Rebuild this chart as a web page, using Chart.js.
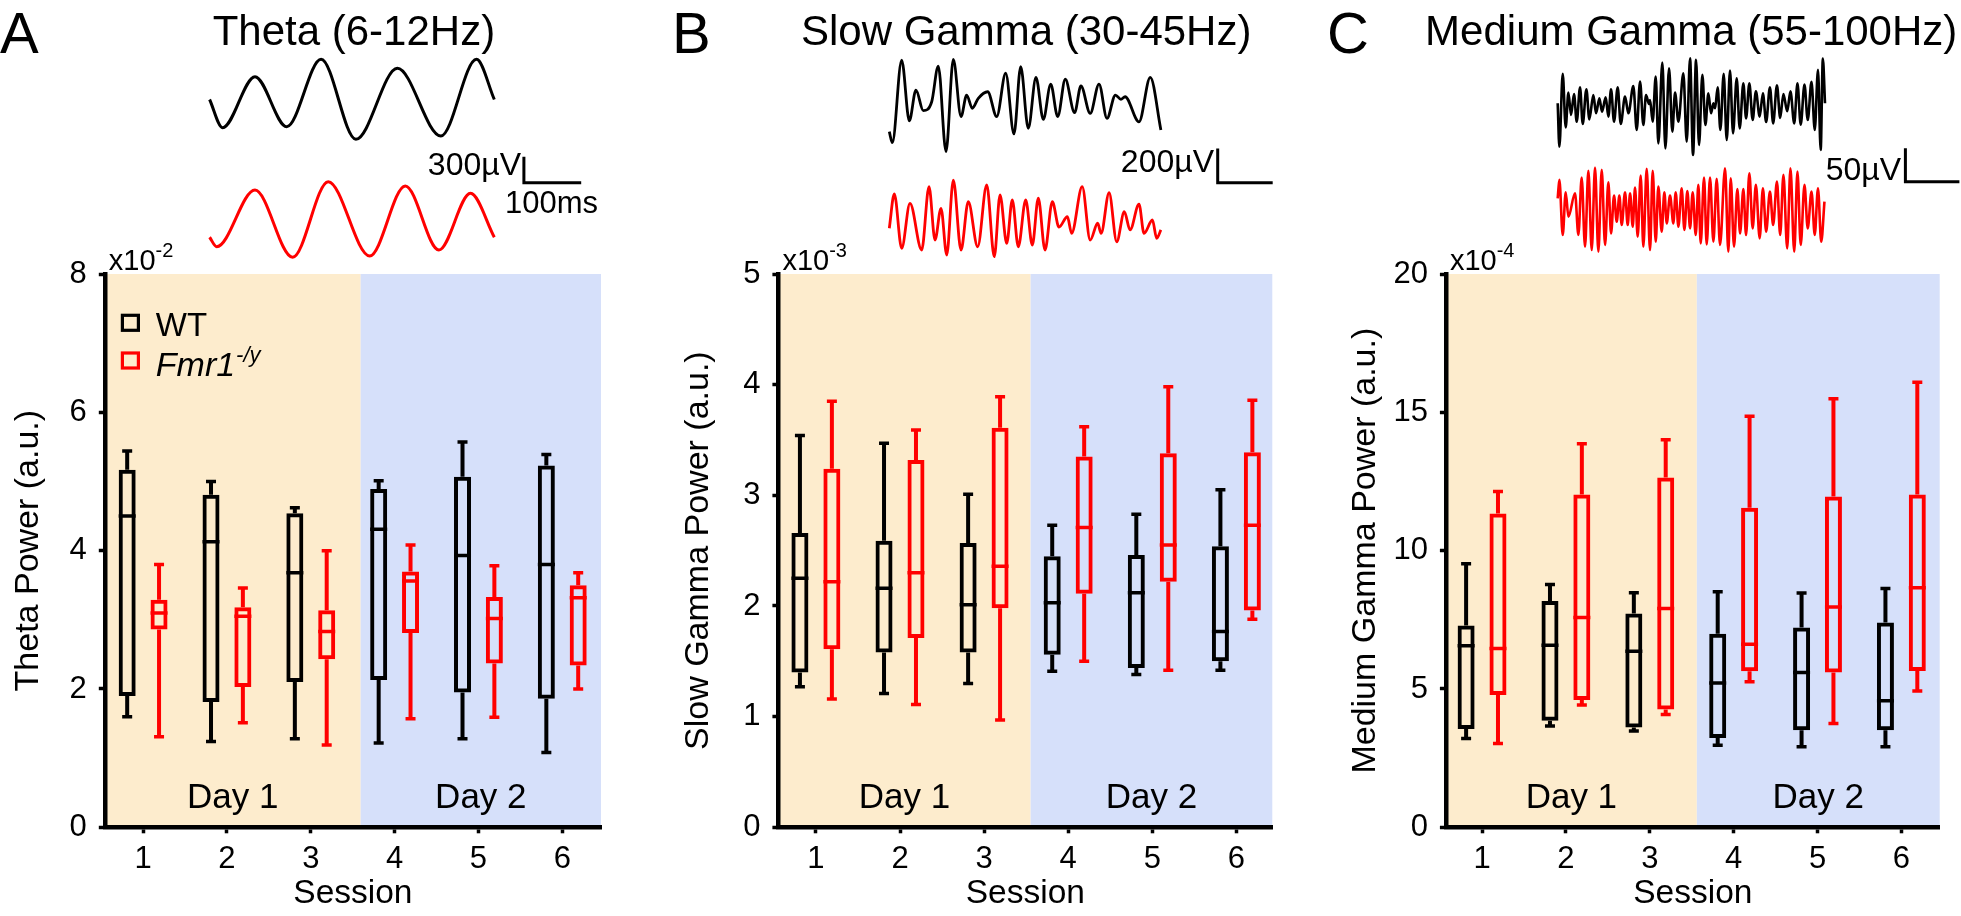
<!DOCTYPE html>
<html>
<head>
<meta charset="utf-8">
<script src="https://cdn.jsdelivr.net/npm/chart.js@4.4.1/dist/chart.umd.min.js"></script>
<style>
html,body{margin:0;padding:0;background:#ffffff;width:1961px;height:916px;overflow:hidden;}
canvas{position:absolute;}
</style>
</head>
<body>
<canvas id="hA"></canvas><canvas id="hB"></canvas><canvas id="hC"></canvas>
<canvas id="mA"></canvas><canvas id="mB"></canvas><canvas id="mC"></canvas>
<script>
// ================= DATA =================
const sessions = [1, 2, 3, 4, 5, 6];
const dayLabels = ['Day 1', 'Day 2'];
const groupLabels = ['WT', 'Fmr1'];

const thetaTicks = [0, 2, 4, 6, 8];
const slowTicks = [0, 1, 2, 3, 4, 5];
const medTicks = [0, 5, 10, 15, 20];

// box rows per session: [lower whisker, Q1, median, Q3, upper whisker]
const thetaWT = [[1.60,1.90,4.50,5.17,5.44],[1.24,1.81,4.13,4.81,5.00],[1.28,2.10,3.68,4.54,4.62],[1.22,2.13,4.31,4.89,5.01],[1.28,1.95,3.93,5.07,5.57],[1.08,1.86,3.80,5.23,5.39]];
const thetaKO = [[1.31,2.86,3.10,3.29,3.80],[1.51,2.03,3.05,3.18,3.46],[1.19,2.43,2.83,3.14,4.00],[1.57,2.81,3.56,3.70,4.08],[1.59,2.37,3.02,3.33,3.78],[2.00,2.34,3.32,3.50,3.68]];
const slowWT = [[1.27,1.40,2.25,2.66,3.54],[1.21,1.58,2.16,2.59,3.47],[1.30,1.58,2.01,2.57,3.01],[1.41,1.56,2.03,2.45,2.73],[1.38,1.44,2.12,2.46,2.83],[1.42,1.50,1.77,2.54,3.05]];
const slowKO = [[1.16,1.61,2.22,3.24,3.85],[1.11,1.71,2.30,3.32,3.59],[0.97,1.98,2.36,3.61,3.89],[1.50,2.11,2.71,3.35,3.62],[1.42,2.22,2.55,3.38,3.98],[1.88,1.96,2.73,3.39,3.86]];
const medWT = [[3.21,3.55,6.56,7.29,9.53],[3.66,3.85,6.58,8.18,8.78],[3.48,3.61,6.36,7.73,8.48],[2.97,3.23,5.22,7.00,8.51],[2.91,3.51,5.60,7.22,8.47],[2.91,3.51,4.57,7.40,8.63]];
const medKO = [[3.03,4.78,6.46,11.34,12.14],[4.42,4.60,7.58,12.03,13.86],[4.08,4.26,7.91,12.64,14.01],[5.26,5.64,6.62,11.55,14.86],[3.75,5.60,7.96,11.96,15.49],[4.93,5.65,8.66,12.03,16.09]];

// example traces: time (ms) and voltage (uV), sampled at the extrema
const thetaWT_t = [0,22.7,79.2,134.6,194.6,255.3,327.7,403.7,465.8,496.9];
const thetaWT_uV = [0,-325,263,-314,464,-459,360,-421,464,0];
const thetaKO_t = [0,12.4,79.2,144.9,207.0,279.4,341.5,400.2,455.3,496.9];
const thetaKO_uV = [-205,-314,340,-436,436,-421,387,-352,302,-205];

const slowWT_t = [0,5.5,22.5,36.4,48.5,61.8,77.1,89.1,103.1,116.4,130.4,140.7,150.9,161.8,178.9,195.3,211.6,226.7,238.9,252.7,266.7,280.0,293.5,306.2,320.0,336.9,348.4,365.3,381.3,395.8,411.1,421.1,428.7,454.0,474.5,493.8];
const slowWT_uV = [-185,-249,233,-121,58,-62,-10,198,-301,237,-97,29,-48,10,48,-97,156,-198,194,-165,132,-113,92,-97,121,-74,82,-78,93,-107,29,4,19,-127,132,-175];
const slowKO_t = [0,9.1,22.5,37.6,58.9,72.2,83.1,94.0,104.4,116.4,130.4,143.6,160.7,177.1,190.9,201.3,213.5,223.6,234.5,248.0,260.0,270.9,283.1,296.4,308.5,323.8,331.5,350.7,365.3,378.9,385.1,399.6,413.5,427.3,437.8,454.0,463.1,478.4,486.2,493.8];
const slowKO_uV = [-48,152,-165,97,-175,194,-117,68,-204,233,-175,107,-156,204,-214,146,-136,117,-156,117,-146,127,-175,107,-41,19,-78,194,-117,-19,-78,159,-127,48,-58,93,-78,0,-107,-58];

const medWT_t = [0,3.1,9.3,14.8,19.8,24.7,30.2,35.2,41.4,46.3,53.1,58.6,66.0,71.0,77.2,82.1,88.9,93.8,98.8,104.3,111.1,116.7,124.7,130.9,140.1,146.3,152.5,158.6,163.6,169.1,171.0,175.9,181.5,186.4,193.8,199.4,206.2,212.3,217.3,223.5,232.7,238.9,245.1,250.6,256.2,261.7,267.9,273.5,279.0,284.0,288.3,291.4,296.3,301.2,307.4,313.0,319.1,324.7,331.5,337.0,343.8,348.8,354.9,361,367,374,380,386,393,399,406,412,418,425,431,438,444,450,457,463,470,476,482,487,491,495];
const medWT_uV = [0,-65,44,-36,16,-17.5,14,-27.5,24,-31,21,-24,12.5,-15,7.5,-12.5,9,-20,21,-27.5,24,-31,10,-15,26,-40,32.5,-32.5,12.5,-1,5,-27.5,40,-60,61,-67.5,52.5,-42.5,16,-27.5,45,-57.5,67.5,-77.5,65,-62.5,42.5,-32.5,15,-15,0,-7.5,24,-40,44,-55,49,-45,37.5,-37.5,30,-22.5,30,-25,18,-20,15,-28,24,-30,27,-22,14,-12,18,-30,30,-32,28,-25,32,-40,50,-70,67,0];
const medKO_t = [0,3.1,9.3,14.8,19.8,32.1,38.3,44.4,50.6,56.8,63.0,69.1,75.3,81.5,87.7,93.8,98.8,104.3,109.3,114.2,118.5,124.7,129.6,134.0,138.9,143.2,148.1,153.7,158.6,164.8,171.0,175.9,181.5,186.4,192.6,197.5,201.9,208.0,214.2,218.5,223.5,229.6,234.6,240.1,245.1,250.0,255.6,260.5,264.8,271.0,275.9,282.1,288.3,294.4,300.6,309.9,316.0,320.4,326.5,332.7,337.7,343.8,348.8,354.9,361,367,374,380,386,393,399,406,412,418,425,431,438,444,450,457,463,470,476,482,488,494];
const medKO_uV = [15,42.5,-40,24,-12.5,22.5,-40,46,-57.5,56,-62.5,61,-65,57.5,-55,39,-37.5,19,-20,19,-25,24,-25,22.5,-27.5,31,-42.5,49,-57.5,59,-62.5,56,-50,32.5,-35,24,-22.5,19,-22.5,24,-27.5,30,-32.5,26,-30,24,-40,35,-52.5,46,-54,46,-50,44,-55,60,-65,45,-57.5,29,-37.5,29,-40,52.5,-30,35,-45,30,-35,25,-25,40,-40,50,-60,60,-65,55,-55,35,-30,25,-40,30,-50,10];

// ================= STYLE / LAYOUT =================
const FONT = "'Liberation Sans', Arial, Helvetica, sans-serif";
Chart.defaults.font.family = FONT;
Chart.defaults.color = '#000000';
const BLACK = '#000000', RED = '#ff0000';
const BEIGE = '#fdeccd', BLUE = '#d6e0fa';
const OFF = 0.19, BOXW = 17, CAP = 10;

function place(id, left, top, w, h) {
  const c = document.getElementById(id);
  c.width = w; c.height = h;
  c.style.left = left + 'px'; c.style.top = top + 'px';
  c.style.width = w + 'px'; c.style.height = h + 'px';
  return c;
}

// ---------- header (title + example traces + scale bar) ----------
function makeHeader(cfg) {
  const H = 275;
  const canvas = place(cfg.id, cfg.cl, 0, cfg.cw, H);
  const pts = (t, v) => t.map((tt, i) => ({ x: tt, y: v[i] }));
  const xmin = (cfg.cl - cfg.x0) / cfg.pxPerMs;
  const xmax = (cfg.cl + cfg.cw - cfg.x0) / cfg.pxPerMs;
  const yRange = (y0) => ({ min: (y0 - H) * cfg.uvPerPx, max: y0 * cfg.uvPerPx });
  const line = (data, color, axis) => ({
    type: 'line', data, yAxisID: axis, borderColor: color, borderWidth: cfg.lw,
    pointRadius: 0, fill: false, cubicInterpolationMode: 'monotone', borderJoinStyle: 'round'
  });
  const plugin = {
    id: 'hdr' + cfg.id,
    afterDraw(chart) {
      const ctx = chart.ctx, xs = chart.scales.x, ys = chart.scales.yb;
      const o = cfg.cl;
      ctx.save();
      ctx.fillStyle = BLACK;
      ctx.textBaseline = 'alphabetic';
      ctx.font = '58px ' + FONT; ctx.textAlign = 'left';
      ctx.fillText(cfg.letter, cfg.letterX - o, 53);
      ctx.font = '42px ' + FONT; ctx.textAlign = 'center';
      ctx.fillText(cfg.title, cfg.titleX - o, 45);
      const b = cfg.bar;
      const w = xs.getPixelForValue(b.ms) - xs.getPixelForValue(0);
      const h = ys.getPixelForValue(0) - ys.getPixelForValue(b.uV);
      ctx.strokeStyle = BLACK; ctx.lineWidth = 3; ctx.lineCap = 'butt';
      ctx.beginPath();
      ctx.moveTo(b.x - o, b.y - h); ctx.lineTo(b.x - o, b.y); ctx.lineTo(b.x - o + w, b.y);
      ctx.stroke();
      ctx.font = '32px ' + FONT; ctx.textAlign = 'right';
      ctx.fillText(b.uV + '\u00b5V', b.labX - o, b.labY);
      if (b.msLab) {
        ctx.font = '31px ' + FONT;
        ctx.textAlign = 'left';
        ctx.fillText(b.ms + 'ms', b.msX - o, b.msY);
      }
      ctx.restore();
    }
  };
  new Chart(canvas, {
    type: 'line',
    data: { datasets: [line(pts(cfg.wt_t, cfg.wt_uV), BLACK, 'yb'), line(pts(cfg.ko_t, cfg.ko_uV), RED, 'yr')] },
    options: {
      responsive: false, animation: false, events: [], devicePixelRatio: 1,
      layout: { padding: 0 },
      plugins: { legend: { display: false }, tooltip: { enabled: false } },
      scales: {
        x: { type: 'linear', display: false, min: xmin, max: xmax },
        yb: Object.assign({ type: 'linear', display: false }, yRange(cfg.yBlack)),
        yr: Object.assign({ type: 'linear', display: false }, yRange(cfg.yRed))
      }
    },
    plugins: [plugin]
  });
}

// ---------- box plot panel ----------
function makeBoxPanel(cfg) {
  const canvas = place(cfg.id, cfg.cl, cfg.ct, cfg.cw, cfg.ch);
  const boxes = (rows, off) => rows.map((r, i) => ({ x: sessions[i] + off, y: [r[1], r[3]] }));
  const ds = (rows, off, color, label) => ({
    label, data: boxes(rows, off), grouped: false, barThickness: BOXW,
    backgroundColor: 'rgba(0,0,0,0)', borderColor: color, borderWidth: 4,
    borderSkipped: false, inflateAmount: 0
  });
  const shade = {
    id: 'shade' + cfg.id,
    beforeDraw(chart) {
      const { ctx, chartArea: a, scales: { x } } = chart;
      const b = x.getPixelForValue(cfg.boundary);
      ctx.save();
      ctx.fillStyle = BEIGE; ctx.fillRect(a.left, a.top, b - a.left, a.bottom - a.top);
      ctx.fillStyle = BLUE; ctx.fillRect(b, a.top, a.right - b, a.bottom - a.top);
      ctx.fillStyle = BLACK; ctx.font = '35px ' + FONT; ctx.textAlign = 'center'; ctx.textBaseline = 'alphabetic';
      ctx.fillText(dayLabels[0], (a.left + b) / 2, 807.5 - cfg.ct);
      ctx.fillText(dayLabels[1], (b + a.right) / 2, 807.5 - cfg.ct);
      ctx.restore();
    }
  };
  const whisk = {
    id: 'whisk' + cfg.id,
    afterDatasetsDraw(chart) {
      const { ctx, chartArea: a, scales: { x, y } } = chart;
      ctx.save();
      [[cfg.wt, -OFF, BLACK], [cfg.ko, OFF, RED]].forEach(([rows, off, col]) => {
        rows.forEach((r, i) => {
          const px = x.getPixelForValue(sessions[i] + off);
          const [lo, q1, md, q3, hi] = r.map(v => y.getPixelForValue(v));
          ctx.strokeStyle = col; ctx.lineCap = 'butt';
          ctx.lineWidth = 4;
          ctx.beginPath();
          ctx.moveTo(px, hi); ctx.lineTo(px, q3);
          ctx.moveTo(px, q1); ctx.lineTo(px, lo);
          ctx.stroke();
          ctx.lineWidth = 3.5;
          ctx.beginPath();
          ctx.moveTo(px - CAP / 2, hi); ctx.lineTo(px + CAP / 2, hi);
          ctx.moveTo(px - CAP / 2, lo); ctx.lineTo(px + CAP / 2, lo);
          ctx.moveTo(px - BOXW / 2, md); ctx.lineTo(px + BOXW / 2, md);
          ctx.stroke();
        });
      });
      // exponent label
      ctx.fillStyle = BLACK; ctx.textBaseline = 'alphabetic'; ctx.textAlign = 'left';
      ctx.font = '29px ' + FONT;
      const ex = a.left + 4, ey = 270 - cfg.ct;
      ctx.fillText('x10', ex, ey);
      const w10 = ctx.measureText('x10').width;
      ctx.font = '20px ' + FONT;
      ctx.fillText(cfg.exp, ex + w10, ey - 13);
      // legend
      if (cfg.legend) {
        const lx = a.left + 16, items = [[BLACK, 322.8], [RED, 360.5]];
        ctx.lineWidth = 3.2;
        items.forEach(([c, cy]) => {
          ctx.strokeStyle = c;
          ctx.strokeRect(lx + 1.6, cy - cfg.ct - 7.5, 16, 15);
        });
        ctx.fillStyle = BLACK;
        ctx.font = '33px ' + FONT;
        ctx.fillText(groupLabels[0], a.left + 51, 336 - cfg.ct);
        ctx.font = 'italic 34px ' + FONT;
        ctx.fillText(groupLabels[1], a.left + 51, 376 - cfg.ct);
        const wf = ctx.measureText(groupLabels[1]).width;
        ctx.font = 'italic 22px ' + FONT;
        ctx.fillText('-/y', a.left + 51 + wf + 1, 362 - cfg.ct);
      }
      ctx.restore();
    }
  };
  const axisGrid = { display: true, drawOnChartArea: false, drawTicks: true, tickLength: 6, tickWidth: 3.5, tickColor: BLACK, offset: false };
  const axisBorder = { display: true, color: BLACK, width: 4.5 };
  new Chart(canvas, {
    type: 'bar',
    data: { datasets: [ds(cfg.wt, -OFF, BLACK, groupLabels[0]), ds(cfg.ko, OFF, RED, groupLabels[1])] },
    options: {
      responsive: false, animation: false, events: [], devicePixelRatio: 1,
      layout: { padding: { left: 0, top: cfg.T - cfg.ct, right: cfg.cl + cfg.cw - cfg.R, bottom: 0 } },
      plugins: { legend: { display: false }, tooltip: { enabled: false } },
      scales: {
        x: {
          type: 'linear', min: cfg.xmin, max: cfg.xmax, offset: false,
          afterFit: s => { s.height = cfg.ct + cfg.ch - cfg.B; },
          afterBuildTicks: s => { s.ticks = sessions.map(v => ({ value: v })); },
          grid: axisGrid, border: axisBorder,
          ticks: { font: { size: 31 }, color: BLACK, padding: 8, maxRotation: 0, autoSkip: false },
          title: { display: true, text: 'Session', font: { size: 33.5 }, color: BLACK, padding: { top: 0, bottom: 2 } }
        },
        y: {
          type: 'linear', min: 0, max: cfg.yTicks[cfg.yTicks.length - 1],
          afterFit: s => { s.width = cfg.L - cfg.cl; },
          afterBuildTicks: s => { s.ticks = cfg.yTicks.map(v => ({ value: v })); },
          grid: axisGrid, border: axisBorder,
          ticks: { font: { size: 31 }, color: BLACK, padding: 12 },
          title: { display: true, text: cfg.yTitle, font: { size: 34 }, color: BLACK, padding: { top: cfg.tpad, bottom: 0 } }
        }
      }
    },
    plugins: [shade, whisk]
  });
}

// ================= BUILD =================
makeHeader({ id: 'hA', cl: 0, cw: 640, x0: 209.6, pxPerMs: 0.573, uvPerPx: 11.54, yBlack: 99.5, yRed: 219.5, lw: 3,
  wt_t: thetaWT_t, wt_uV: thetaWT_uV, ko_t: thetaKO_t, ko_uV: thetaKO_uV,
  letter: 'A', letterX: 0, title: 'Theta (6-12Hz)', titleX: 353.9,
  bar: { x: 523.9, y: 182.7, uV: 300, ms: 100, labX: 521, labY: 175, msLab: true, msX: 505, msY: 213 } });
makeHeader({ id: 'hB', cl: 660, cw: 640, x0: 889.3, pxPerMs: 0.55, uvPerPx: 5.83, yBlack: 100, yRed: 220, lw: 2.8,
  wt_t: slowWT_t, wt_uV: slowWT_uV, ko_t: slowKO_t, ko_uV: slowKO_uV,
  letter: 'B', letterX: 672, title: 'Slow Gamma (30-45Hz)', titleX: 1026.2,
  bar: { x: 1217.7, y: 182.7, uV: 200, ms: 100, labX: 1214, labY: 172, msLab: false } });
makeHeader({ id: 'hC', cl: 1320, cw: 641, x0: 1557.7, pxPerMs: 0.54, uvPerPx: 1.497, yBlack: 103.3, yRed: 208.3, lw: 2.6,
  wt_t: medWT_t, wt_uV: medWT_uV, ko_t: medKO_t, ko_uV: medKO_uV,
  letter: 'C', letterX: 1327, title: 'Medium Gamma (55-100Hz)', titleX: 1691.2,
  bar: { x: 1905.4, y: 181.7, uV: 50, ms: 100, labX: 1901, labY: 180, msLab: false } });

makeBoxPanel({ id: 'mA', cl: 0, ct: 240, cw: 620, ch: 676, L: 104.8, R: 601, T: 274, B: 827.3,
  xmin: 0.543, xmax: 6.462, boundary: 3.595, yTicks: thetaTicks, yTitle: 'Theta Power (a.u.)', tpad: 8.5,
  exp: '-2', wt: thetaWT, ko: thetaKO, legend: true });
makeBoxPanel({ id: 'mB', cl: 670, ct: 240, cw: 620, ch: 676, L: 778.4, R: 1272.3, T: 274, B: 827.3,
  xmin: 0.554, xmax: 6.427, boundary: 3.553, yTicks: slowTicks, yTitle: 'Slow Gamma Power (a.u.)', tpad: 8.5,
  exp: '-3', wt: slowWT, ko: slowKO, legend: false });
makeBoxPanel({ id: 'mC', cl: 1337, ct: 240, cw: 620, ch: 676, L: 1445.9, R: 1939.7, T: 274, B: 827.3,
  xmin: 0.569, xmax: 6.457, boundary: 3.561, yTicks: medTicks, yTitle: 'Medium Gamma Power (a.u.)', tpad: 7.8,
  exp: '-4', wt: medWT, ko: medKO, legend: false });
</script>
</body>
</html>
